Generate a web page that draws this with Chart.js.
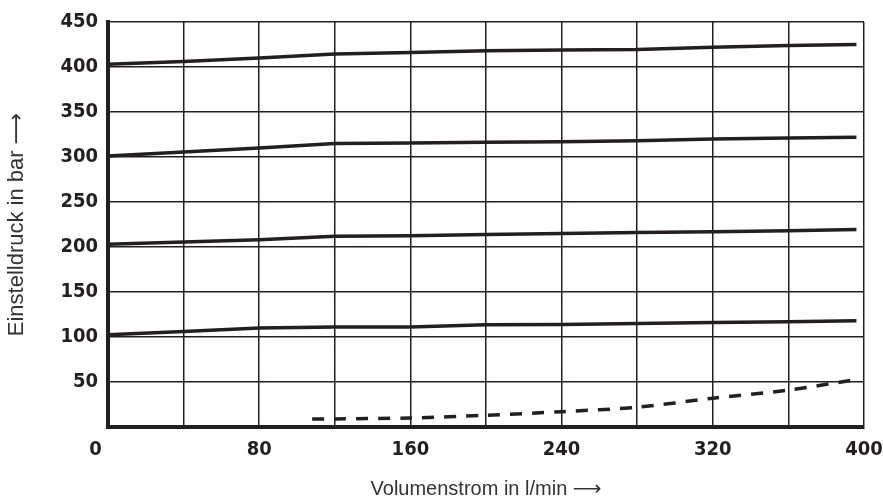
<!DOCTYPE html>
<html>
<head>
<meta charset="utf-8">
<script src="https://cdn.jsdelivr.net/npm/chart.js@4"></script>
<style>
  html, body { margin: 0; padding: 0; background: #fff; }
  #wrap { width: 883px; height: 504px; }
</style>
</head>
<body>
<div id="wrap"><canvas id="graph-box"></canvas></div>
<script>
// Volumenstrom (l/min) and Einstelldruck (bar)
const flowX = [0, 40, 80, 120, 160, 200, 240, 280, 320, 360, 396];
const p400 = [403, 406, 410, 414.5, 416, 418, 419, 419.5, 422, 424, 425];
const p300 = [301, 305.5, 310, 315, 315.5, 316.5, 317, 318, 320, 321, 322];
const p200 = [203, 205.5, 208, 212, 212.5, 214, 215, 216, 217, 218, 219.5];
const p100 = [102.5, 106, 110, 111, 111, 113.5, 114, 115, 116, 117, 118];
const minX = [108, 120, 160, 200, 240, 280, 320, 360, 394];
const minP = [9, 9, 10, 13, 17, 22, 32, 41, 52];

const xTicks = [0, 80, 160, 240, 320, 400];
const yTicks = [50, 100, 150, 200, 250, 300, 350, 400, 450];

const ink = '#231f20';
const tickFont = { family: "'DejaVu Sans Condensed', 'DejaVu Sans'", weight: 'bold', size: 20 };

function pts(xs, ys) {
    return xs.map((x, i) => ({ x: x, y: ys[i] }));
}

function solid(ys) {
    return {
        data: pts(flowX, ys),
        borderColor: ink,
        borderWidth: 3.5,
        pointRadius: 0,
        tension: 0
    };
}

const ctx = document.getElementById('graph-box');

const myChart = new Chart(ctx, {
    type: 'scatter',
    data: {
        datasets: [
            solid(p400),
            solid(p300),
            solid(p200),
            solid(p100),
            {
                data: pts(minX, minP),
                borderColor: ink,
                borderWidth: 3.5,
                borderDash: [12, 10],
                pointRadius: 0,
                tension: 0.3
            }
        ]
    },
    options: {
        responsive: true,
        maintainAspectRatio: false,
        animation: false,
        showLine: true,
        layout: {
            padding: { top: 19, right: 19, left: 0, bottom: 0 }
        },
        plugins: {
            legend: { display: false },
            tooltip: { enabled: false }
        },
        scales: {
            x: {
                type: 'linear',
                min: 0,
                max: 400,
                afterFit: s => {
                    s.height = 77;
                    s.paddingLeft = 0;
                    s.paddingRight = 0;
                },
                ticks: {
                    stepSize: 40,
                    padding: 11,
                    color: ink,
                    maxRotation: 0,
                    autoSkip: false,
                    font: tickFont,
                    // the 0 sits left of the corner in the original
                    callback: v => v === 0 ? '0\u2007\u2007' : (xTicks.includes(v) ? String(v) : '')
                },
                grid: { color: ink, lineWidth: 1.5, drawTicks: false },
                border: { color: ink, width: 4 },
                title: {
                    display: true,
                    text: 'Volumenstrom in l/min ⟶',
                    color: '#333',
                    font: { family: "'Liberation Sans', 'DejaVu Sans'", size: 20 },
                    padding: { top: 0, bottom: 3 }
                }
            },
            y: {
                type: 'linear',
                min: 0,
                max: 450,
                afterFit: s => { s.width = 108; },
                ticks: {
                    stepSize: 50,
                    padding: 10,
                    color: ink,
                    autoSkip: false,
                    font: tickFont,
                    callback: v => yTicks.includes(v) ? String(v) : ''
                },
                grid: { color: ink, lineWidth: 1.5, drawTicks: false },
                border: { color: ink, width: 4 },
                title: {
                    display: true,
                    text: 'Einstelldruck in bar ⟶',
                    color: '#333',
                    font: { family: "'Liberation Sans', 'DejaVu Sans'", size: 22 },
                    padding: { top: 4, bottom: 0 }
                }
            }
        }
    }
});
</script>
</body>
</html>
